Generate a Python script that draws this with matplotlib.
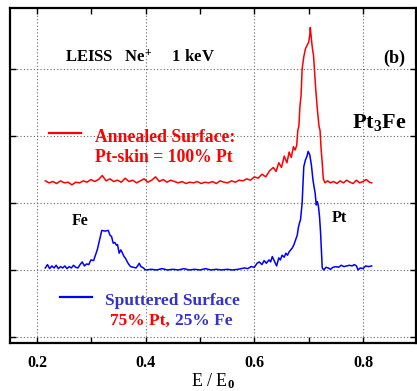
import matplotlib
matplotlib.use('Agg')
import matplotlib.pyplot as plt

plt.rcParams['font.family'] = ['Liberation Serif', 'DejaVu Serif']
plt.rcParams['font.weight'] = 'bold'
plt.rcParams['mathtext.fontset'] = 'custom'
plt.rcParams['mathtext.rm'] = 'Liberation Serif:bold'
plt.rcParams['mathtext.it'] = 'Liberation Serif:bold'
plt.rcParams['mathtext.bf'] = 'Liberation Serif:bold'

# annealed surface (red), E/E0 vs intensity (offset units)
red_x = [0.215, 0.222, 0.229, 0.236, 0.243, 0.250, 0.257, 0.264, 0.271, 0.278,
         0.285, 0.292, 0.299, 0.306, 0.313, 0.320, 0.327, 0.334, 0.341, 0.348,
         0.355, 0.362, 0.369, 0.376, 0.383, 0.390, 0.397, 0.404, 0.411, 0.418,
         0.425, 0.432, 0.439, 0.446, 0.453, 0.460, 0.467, 0.474, 0.481, 0.488,
         0.495, 0.502, 0.509, 0.516, 0.523, 0.530, 0.537, 0.544, 0.551, 0.558,
         0.565, 0.572, 0.579, 0.586, 0.593, 0.600, 0.607, 0.614, 0.621, 0.628,
         0.635, 0.640, 0.645, 0.650, 0.655, 0.660, 0.664, 0.668, 0.672, 0.675,
         0.678, 0.680, 0.682, 0.684, 0.686, 0.688, 0.691, 0.694, 0.697, 0.700,
         0.702, 0.703, 0.705, 0.707, 0.709, 0.711, 0.713, 0.716, 0.719, 0.721,
         0.723, 0.725, 0.727, 0.730, 0.735, 0.740, 0.746, 0.752, 0.758, 0.764,
         0.770, 0.776, 0.782, 0.788, 0.794, 0.800, 0.806, 0.812, 0.816]
red_y = [2.33, 2.30, 2.32, 2.29, 2.33, 2.30, 2.31, 2.27, 2.31, 2.30,
         2.33, 2.31, 2.35, 2.32, 2.35, 2.41, 2.33, 2.36, 2.32, 2.34,
         2.31, 2.37, 2.32, 2.34, 2.30, 2.33, 2.36, 2.31, 2.34, 2.39,
         2.32, 2.35, 2.31, 2.34, 2.32, 2.30, 2.32, 2.29, 2.31, 2.30,
         2.32, 2.29, 2.31, 2.30, 2.32, 2.29, 2.33, 2.31, 2.30, 2.33,
         2.31, 2.34, 2.33, 2.36, 2.34, 2.39, 2.37, 2.43, 2.39, 2.48,
         2.53, 2.47, 2.60, 2.53, 2.70, 2.60, 2.76, 2.68, 2.84, 2.79,
         2.86, 3.08, 3.15, 3.45, 3.60, 4.00, 4.18, 4.30, 4.35, 4.40,
         4.50, 4.62, 4.45, 4.30, 4.20, 3.95, 3.70, 3.40, 3.15, 3.08,
         2.80, 2.60, 2.36, 2.30, 2.33, 2.30, 2.32, 2.29, 2.33, 2.30,
         2.34, 2.31, 2.29, 2.34, 2.30, 2.32, 2.35, 2.31, 2.30]

# sputtered surface (blue)
blue_x = [0.215, 0.219, 0.223, 0.227, 0.231, 0.235, 0.239, 0.243, 0.247, 0.251,
          0.255, 0.259, 0.263, 0.267, 0.271, 0.275, 0.279, 0.283, 0.287, 0.291,
          0.295, 0.299, 0.304, 0.308, 0.311, 0.315, 0.319, 0.325, 0.331, 0.334,
          0.337, 0.340, 0.343, 0.346, 0.348, 0.351, 0.354, 0.356, 0.360, 0.363,
          0.366, 0.369, 0.372, 0.377, 0.382, 0.385, 0.388, 0.391, 0.394, 0.400,
          0.410, 0.420, 0.430, 0.440, 0.450, 0.460, 0.470, 0.480, 0.490, 0.500,
          0.510, 0.520, 0.530, 0.540, 0.550, 0.560, 0.570, 0.576, 0.582, 0.588,
          0.594, 0.600, 0.605, 0.609, 0.614, 0.618, 0.622, 0.627, 0.630, 0.633,
          0.637, 0.641, 0.645, 0.648, 0.651, 0.655, 0.658, 0.661, 0.664, 0.667,
          0.670, 0.673, 0.676, 0.679, 0.681, 0.683, 0.685, 0.688, 0.691, 0.694,
          0.697, 0.699, 0.702, 0.705, 0.708, 0.712, 0.714, 0.716, 0.718, 0.720,
          0.722, 0.724, 0.725, 0.728, 0.732, 0.736, 0.740, 0.745, 0.750, 0.755,
          0.760, 0.765, 0.770, 0.775, 0.780, 0.784, 0.788, 0.791, 0.795, 0.800,
          0.805, 0.810, 0.816]
blue_y = [1.03, 1.08, 1.02, 1.06, 1.03, 1.07, 1.02, 1.05, 1.03, 1.06,
          1.02, 1.05, 1.03, 1.07, 1.04, 1.03, 1.08, 1.12, 1.06, 1.09,
          1.08, 1.15, 1.14, 1.24, 1.31, 1.45, 1.59, 1.58, 1.59, 1.52,
          1.50, 1.40, 1.41, 1.37, 1.38, 1.25, 1.30, 1.27, 1.20, 1.17,
          1.12, 1.08, 1.05, 1.04, 1.03, 1.06, 1.10, 1.05, 1.04, 1.00,
          1.01, 1.00, 1.02, 1.00, 1.01, 1.00, 1.02, 1.00, 1.01, 1.00,
          1.02, 1.00, 1.01, 1.00, 1.01, 1.00, 1.01, 1.02, 1.03, 1.02,
          1.05, 1.04, 1.10, 1.12, 1.08, 1.14, 1.10, 1.15, 1.12, 1.20,
          1.13, 1.06, 1.18, 1.15, 1.22, 1.19, 1.25, 1.22, 1.27, 1.30,
          1.33, 1.38, 1.45, 1.52, 1.63, 1.70, 1.75, 2.00, 2.54, 2.64,
          2.70, 2.77, 2.72, 2.57, 2.34, 2.14, 1.97, 2.02, 1.95, 1.80,
          1.55, 1.20, 1.03, 1.00, 1.04, 1.03, 1.01, 1.04, 1.05, 1.04,
          1.07, 1.05, 1.06, 1.07, 1.06, 1.08, 1.06, 1.00, 1.03, 1.02,
          1.06, 1.05, 1.06]

x_major = [0.2, 0.4, 0.6, 0.8]
x_minor = [0.3, 0.5, 0.7]
y_grid = [0, 1, 2, 3, 4]

RED = '#ff0000'
BLUE = '#0000ff'
BLUE_TXT = '#3333cc'

fig = plt.figure(figsize=(4.17, 3.91), dpi=100)
ax = fig.add_axes([0.024, 0.1228, 0.974, 0.8567])

ax.plot(red_x, red_y, color=RED, lw=1.1)
ax.plot(blue_x, blue_y, color=BLUE, lw=1.1)

ax.set_xlim(0.15, 0.898)
ax.set_ylim(-0.09, 4.91)
ax.set_xticks(x_major)
ax.set_xticks(x_minor, minor=True)
ax.set_xticklabels(['0.2', '0.4', '0.6', '0.8'])
ax.set_yticks(y_grid)
ax.set_yticklabels([])
ax.grid(True, which='major', color='#666666', linestyle=(0, (1, 2)), lw=0.8)
ax.tick_params(which='both', direction='in', length=4, width=1.0,
               top=True, right=True, labelsize=11.5, pad=9)
for s in ax.spines.values():
    s.set_linewidth(1.6)
ax.set_xlabel(r'E / E$_0$', fontsize=13, labelpad=0)

kw = dict(transform=ax.transAxes, fontweight='bold')
ax.text(0.135, 0.851, r'LEISS   Ne$^{+}$     1 keV', fontsize=12, va='center', **kw)
ax.text(0.973, 0.851, '(b)', fontsize=13, ha='right', va='center', **kw)
ax.text(0.842, 0.642, r'Pt$_3$Fe', fontsize=16, va='baseline', **kw)
ax.text(0.172, 0.352, 'Fe', fontsize=11.5, ha='center', va='baseline', **kw)
ax.text(0.810, 0.362, 'Pt', fontsize=11.5, ha='center', va='baseline', **kw)

# legend-like annotations
ax.plot([0.096, 0.175], [0.627, 0.627], color=RED, lw=1.6, transform=ax.transAxes)
ax.text(0.209, 0.601, 'Annealed Surface:', color=RED, fontsize=12.7, va='baseline', **kw)
ax.text(0.209, 0.541, 'Pt-skin = 100% Pt', color=RED, fontsize=12.7, va='baseline', **kw)
ax.plot([0.123, 0.202], [0.137, 0.137], color=BLUE, lw=1.6, transform=ax.transAxes)
ax.text(0.234, 0.113, 'Sputtered Surface', color=BLUE_TXT, fontsize=12.5, va='baseline', **kw)
ax.text(0.246, 0.054, '75% Pt,', color=RED, fontsize=12.5, va='baseline', **kw)
ax.text(0.406, 0.054, '25% Fe', color=BLUE_TXT, fontsize=12.5, va='baseline', **kw)

fig.savefig('out.png', dpi=100)
